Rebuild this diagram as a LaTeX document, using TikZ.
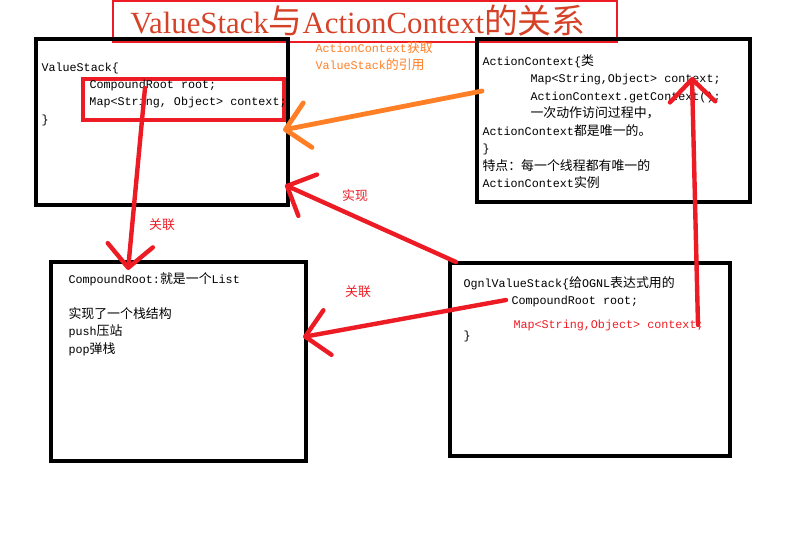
\documentclass[tikz,border=0pt]{standalone}
\usepackage{fontspec}
\setmainfont{Liberation Serif}
\setmonofont{Liberation Mono}
\newfontfamily\cjk[Scale=1.1]{Noto Sans CJK SC}
\usetikzlibrary{arrows.meta}
\definecolor{paintred}{RGB}{237,28,36}
\definecolor{paintorange}{RGB}{255,127,39}
\definecolor{titlered}{RGB}{214,66,40}
\newcommand{\zh}[1]{{\cjk #1}}
\newcommand{\ind}{\hspace*{36pt}}
\tikzset{every picture/.style={line width=0.75pt}}
\tikzset{
  classbox/.style={draw=black,line width=3pt},
  code/.style={font=\ttfamily\fontsize{8.8}{13.1}\selectfont,align=left,anchor=north west,inner sep=0pt},
  note/.style={font=\ttfamily\fontsize{8.8}{12.8}\selectfont,align=left,inner sep=0pt},
  redarrow/.style={draw=paintred,line width=3.3pt,line cap=round,-{Straight Barb[length=17pt,width=34pt,round]}},
  orangearrow/.style={draw=paintorange,line width=3.6pt,line cap=round,-{Straight Barb[length=17pt,width=34pt,round]}}
}

\begin{document}
\begin{tikzpicture}[x=0.75pt,y=0.75pt,yscale=-1,xscale=1]
\useasboundingbox (0,0) rectangle (800,533);

%Title
\draw [draw=paintred,line width=1.3pt] (113,1) rectangle (617,42);
\draw (358,21) node [text=titlered,font=\fontsize{23.1}{25}\selectfont] (title) {ValueStack\zh{与}ActionContext\zh{的关系}};

%Shape: Rectangle ValueStack
\draw [classbox] (36,39) rectangle (288,205);
%Shape: Rectangle fields
\draw [draw=paintred,line width=3pt] (83,79) rectangle (284,120);
%Shape: Rectangle ActionContext
\draw [classbox] (477,39) rectangle (750,202);
%Shape: Rectangle CompoundRoot
\draw [classbox] (51,262) rectangle (306,461);
%Shape: Rectangle OgnlValueStack
\draw [classbox] (450,263) rectangle (730,456);

% Text Node
\draw (41,62) node [code] (vstext) {ValueStack\{\\
\ind CompoundRoot root;\\
\ind Map<String, Object> context;\\
\}};
% Text Node
\draw (482,54) node [code] (actext) {ActionContext\{\zh{类}\\
\ind Map<String,Object> context;\\
\ind ActionContext.getContext();\\
\ind \zh{一次动作访问过程中，}\\
ActionContext\zh{都是唯一的。}\\
\}\\
\zh{特点：每一个线程都有唯一的}\\
ActionContext\zh{实例}};
% Text Node
\draw (68,272) node [code] (crtext) {CompoundRoot:\zh{就是一个}List\\
\\
\zh{实现了一个栈结构}\\
push\zh{压站}\\
pop\zh{弹栈}};
% Text Node
\draw (463,276) node [code] (ostext) {OgnlValueStack\{\zh{给}OGNL\zh{表达式用的}\\
\ind CompoundRoot root;\\
\\
\}};
% Text Node
\draw (513,325) node [note,anchor=west,text=paintred] (osmap) {Map<String,Object> context;};

% Labels
\draw (315,56) node [note,anchor=west,text=paintorange] (getref) {ActionContext\zh{获取}\\ValueStack\zh{的引用}};
\draw (162,225) node [note,text=paintred] (assoc1) {\zh{关联}};
\draw (355,196) node [note,text=paintred] (impl) {\zh{实现}};
\draw (358,292) node [note,text=paintred] (assoc2) {\zh{关联}};

% Arrow ends
\coordinate (acctx) at (482,91);
\coordinate (vsright) at (283,130);
\coordinate (vsroot) at (145,88);
\coordinate (crtop) at (128,270);
\coordinate (oscorner) at (456,262);
\coordinate (vscorner) at (285,185);
\coordinate (osroot) at (506,300);
\coordinate (crright) at (303,337);
\coordinate (osctx) at (698,325);
\coordinate (acmap) at (692,77);

%Straight Lines
\draw [orangearrow] (acctx) -- (vsright);
\draw [redarrow] (vsroot) -- (crtop);
\draw [redarrow] (oscorner) -- (vscorner);
\draw [redarrow] (osroot) -- (crright);
\draw [redarrow] (osctx) -- (acmap);

\end{tikzpicture}
\end{document}
